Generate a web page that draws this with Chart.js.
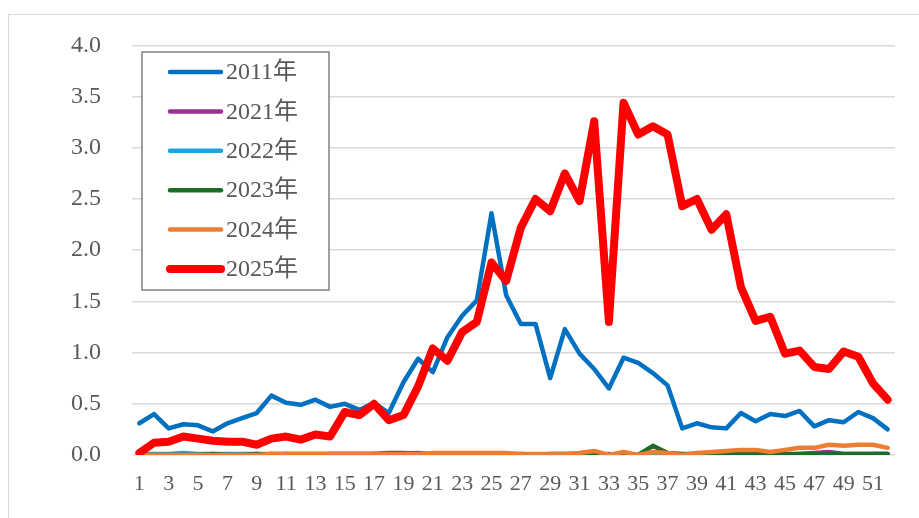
<!DOCTYPE html>
<html>
<head>
<meta charset="utf-8">
<script src="https://cdn.jsdelivr.net/npm/chart.js@4"></script>
<style>
html,body{margin:0;padding:0;background:#fff;}
#wrap{position:relative;width:919px;height:518px;}
#frame{position:absolute;left:8px;top:14px;width:940px;height:540px;border:1.5px solid #d9d9d9;box-sizing:border-box;pointer-events:none;}
</style>
</head>
<body>
<div id="wrap">
<canvas id="c" width="919" height="518"></canvas>
<div id="frame"></div>
</div>
<script>
//週番号
const weeks=["1","2","3","4","5","6","7","8","9","10","11","12","13","14","15","16","17","18","19","20","21","22","23","24","25","26","27","28","29","30","31","32","33","34","35","36","37","38","39","40","41","42","43","44","45","46","47","48","49","50","51","52"];

const y2011=[0.31,0.40,0.26,0.30,0.29,0.23,0.31,0.36,0.41,0.58,0.51,0.49,0.54,0.47,0.50,0.44,0.51,0.41,0.71,0.94,0.81,1.15,1.36,1.51,2.36,1.56,1.28,1.28,0.75,1.23,0.99,0.84,0.65,0.95,0.90,0.80,0.68,0.26,0.31,0.27,0.26,0.41,0.33,0.40,0.38,0.43,0.28,0.34,0.32,0.42,0.36,0.25];
const y2021=[0,0,0,0,0,0,0,0,0,0.01,0,0,0,0,0,0,0.01,0.01,0.01,0.02,0.01,0.01,0,0,0,0,0,0,0,0,0,0,0.01,0,0,0,0,0,0,0,0,0,0,0,0,0.01,0.02,0.03,0.01,0.01,0.01,0.01];
const y2022=[0.01,0.01,0.01,0.02,0.01,0.01,0.01,0.01,0.01,0.01,0.01,0.01,0.01,0.01,0.01,0.01,0.01,0,0,0,0,0,0,0,0,0,0,0,0,0,0.01,0.01,0,0.01,0,0.02,0,0,0.01,0.02,0.01,0,0,0,0,0,0,0,0,0,0.01,0.01];
const y2023=[0,0,0,0,0,0.01,0,0,0.01,0,0.01,0,0,0.01,0.01,0.01,0.01,0.02,0.02,0.01,0.01,0.01,0.01,0.01,0,0,0.01,0,0.01,0.01,0.01,0.02,0,0.01,0,0.09,0.02,0.01,0.01,0.01,0.01,0.01,0.01,0.01,0.01,0.01,0.01,0.01,0.01,0.01,0.01,0.01];
const y2024=[0,0,0,0,0,0,0,0,0,0.01,0.01,0.01,0.01,0.01,0.01,0.01,0.01,0.01,0.01,0.01,0.02,0.02,0.02,0.02,0.02,0.02,0.01,0.01,0.01,0.01,0.02,0.04,0,0.03,0,0.03,0.02,0,0.02,0.03,0.04,0.05,0.05,0.03,0.05,0.07,0.07,0.10,0.09,0.10,0.10,0.07];
const y2025=[0.02,0.12,0.13,0.18,0.16,0.14,0.13,0.13,0.10,0.16,0.18,0.15,0.20,0.18,0.42,0.39,0.50,0.34,0.39,0.67,1.04,0.92,1.20,1.30,1.88,1.70,2.22,2.50,2.38,2.75,2.48,3.26,1.30,3.44,3.13,3.21,3.13,2.43,2.50,2.20,2.35,1.64,1.31,1.35,0.99,1.02,0.86,0.84,1.01,0.96,0.70,0.54];

const seriesNames=["2011年","2021年","2022年","2023年","2024年","2025年"];
const seriesData=[y2011,y2021,y2022,y2023,y2024,y2025];
const colors=["#0070C0","#9E2F93","#1FA3DD","#1E6B2A","#ED7D31","#FF0000"];
const widths=[4.5,4.5,4.5,4.5,4.5,8];

const FONT='"Liberation Serif","Noto Sans CJK JP",serif';
const GRAY="#595959";

// 凡例はプロット内の枠に描く
const boxLegend={
  id:"boxLegend",
  afterDraw(chart){
    const ctx=chart.ctx;
    ctx.save();
    ctx.strokeStyle="#808080";ctx.lineWidth=1.5;
    ctx.fillStyle="#fff";
    ctx.fillRect(142,52,187,238);
    ctx.strokeRect(142,52,187,238);
    chart.data.datasets.forEach((ds,i)=>{
      const y=72+i*39.4;
      ctx.beginPath();
      ctx.strokeStyle=ds.borderColor;ctx.lineWidth=ds.borderWidth;ctx.lineCap="round";
      ctx.moveTo(170,y);ctx.lineTo(221,y);ctx.stroke();
      ctx.fillStyle=GRAY;ctx.font="24px "+FONT;ctx.textBaseline="middle";ctx.textAlign="left";
      ctx.fillText(ds.label,226,y+1);
    });
    ctx.restore();
  }
};

new Chart(document.getElementById("c").getContext("2d"),{
  type:"line",
  data:{labels:weeks,
    datasets:seriesNames.map((n,i)=>({label:n,data:seriesData[i],borderColor:colors[i],backgroundColor:colors[i],
      borderWidth:widths[i],pointRadius:0,tension:0,borderCapStyle:"round",borderJoinStyle:"round",order:5-i}))},
  options:{
    responsive:false,animation:false,
    layout:{padding:{top:44,right:24,left:0,bottom:0}},
    plugins:{legend:{display:false},tooltip:{enabled:false}},
    scales:{
      x:{offset:true,grid:{display:false,drawTicks:false},border:{display:false},
        afterFit:s=>{s.height=63;},
        ticks:{autoSkip:false,maxRotation:0,padding:16,color:GRAY,font:{family:FONT,size:22},
          callback:function(v,i){return i%2===0?this.getLabelForValue(v):"";}}},
      y:{min:0,max:4,afterFit:s=>{s.width=132;},
        grid:{color:"#d9d9d9",lineWidth:1.5,drawTicks:false},border:{display:false},
        ticks:{stepSize:0.5,padding:31,color:GRAY,font:{family:FONT,size:24},callback:v=>v.toFixed(1)}}
    }
  },
  plugins:[boxLegend]
});
</script>
</body>
</html>
